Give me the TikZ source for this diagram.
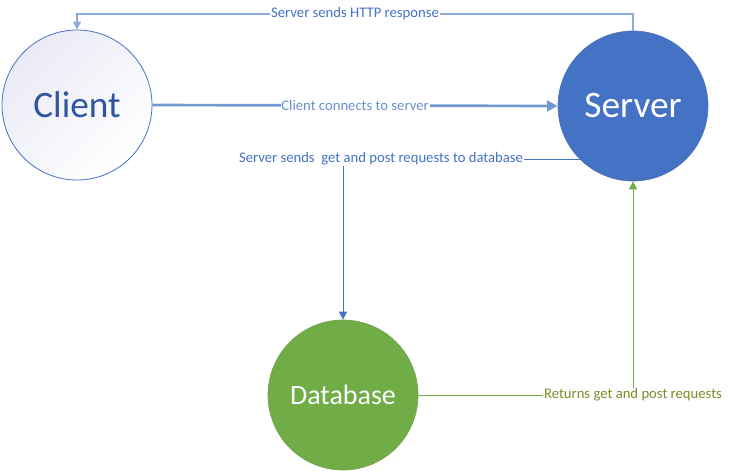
\documentclass[tikz,border=0pt]{standalone}
\usepackage{fontspec}
\setmainfont{Carlito}
\usetikzlibrary{arrows.meta}
\definecolor{sblue}{RGB}{68,114,196}
\definecolor{lblue}{RGB}{143,170,220}
\definecolor{mblue}{RGB}{114,152,210}
\definecolor{dgreen}{RGB}{112,173,71}
\definecolor{olive}{RGB}{120,142,40}
\definecolor{ctext}{RGB}{47,85,160}
\definecolor{lav}{RGB}{233,234,245}
\tikzset{
  bignode/.style={circle, inner sep=0pt, minimum size=112.5pt},
  lbl/.style={fill=white, inner sep=0.6pt, font=\fontsize{11pt}{12pt}\selectfont},
  tip/.style={-{Triangle[width=6pt,length=6pt]}}
}
\begin{document}
\begin{tikzpicture}[x=0.75pt,y=-0.75pt]
\useasboundingbox (0,0) rectangle (730,472);
\node[bignode, draw=sblue, line width=0.6pt, top color=lav, bottom color=white, shading angle=45,
  text=ctext, font=\fontsize{28pt}{30pt}\selectfont] (client) at (77,105) {Client};
\node[bignode, fill=sblue, draw=sblue!80!gray, line width=0.5pt, text=white,
  font=\fontsize{28pt}{30pt}\selectfont] (server) at (633,106) {Server};
\node[bignode, fill=dgreen, draw=dgreen!80!gray, line width=0.5pt, text=white,
  font=\fontsize{21pt}{23pt}\selectfont] (db) at (343,395) {Database};
% top: server -> client
\coordinate (topr) at (633,14);
\draw[lblue, line width=0.9pt, tip] (server.north) -- (topr) -| node[lbl, pos=0.25, text=sblue]{Server sends HTTP response} (client.north);
% client -> server
\draw[mblue, line width=2pt, -{Triangle[width=8pt,length=8pt]}] (client.east) -- node[lbl, text=mblue!80!sblue]{Client connects to server} (server.west);
% server -> database
\draw[sblue, line width=0.7pt, tip] (server.south west) -| (db.north);
\node[lbl, text=sblue] (l3) at (381,159) {Server sends~ get and post requests to database};
% database -> server
\draw[dgreen, line width=0.7pt, tip] (db.east) -| node[lbl, pos=0.5, text=olive]{Returns get and post requests} (server.south);
\end{tikzpicture}
\end{document}
